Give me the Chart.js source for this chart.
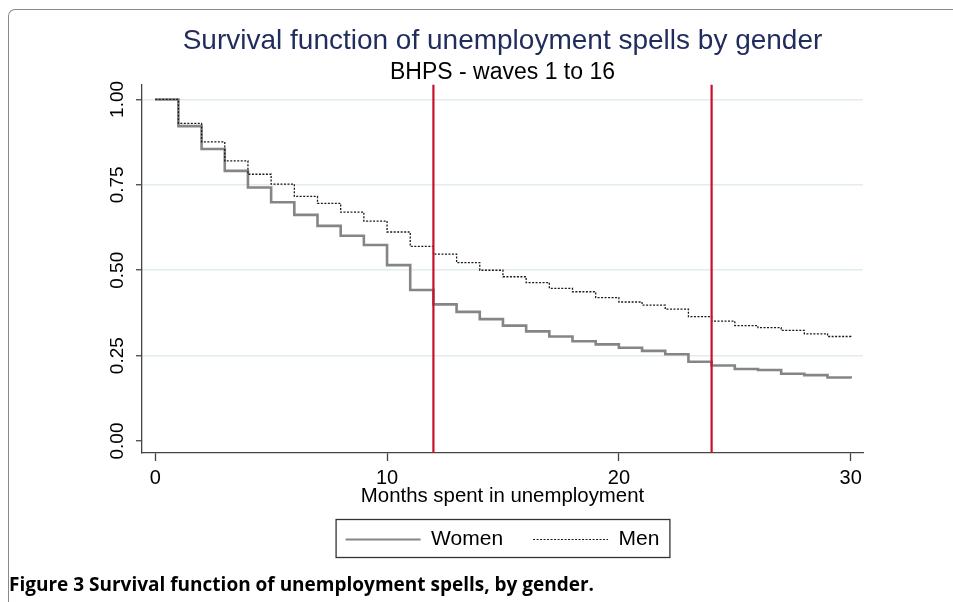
<!DOCTYPE html>
<html lang="en">
<head>
  <meta charset="UTF-8">
  <title>Survival function of unemployment spells by gender</title>
  <script src="https://cdn.jsdelivr.net/npm/chart.js@4.4.1/dist/chart.umd.min.js"></script>
  <style>
    body {
      margin: 0;
      background: #fff;
    }

    .frame {
      position: absolute;
      left: 8px;
      top: 9px;
      width: 980px;
      height: 620px;
      border-top: 1.5px solid #8a8a8a;
      border-left: 1.5px solid #8a8a8a;
      border-top-left-radius: 7px;
    }

    .chart_box {
      position: absolute;
      left: 0;
      top: 0;
      width: 953px;
      height: 602px;
    }

    .caption {
      position: absolute;
      left: 9px;
      top: 571px;
      font: bold 19px "Open Sans";
      white-space: nowrap;
    }
  </style>
</head>

<body>
  <div class="frame"></div>
  <div class="chart_box"><canvas id="survChart" width="953" height="602"></canvas></div>
  <div class="caption">Figure 3 Survival function of unemployment spells, by gender.</div>

  <script>
    // months since start of spell
    const months = [0, 1, 2, 3, 4, 5, 6, 7, 8, 9, 10, 11, 12, 13, 14, 15, 16, 17, 18, 19, 20,
      21, 22, 23, 24, 25, 26, 27, 28, 29, 30];
    const women = [1.000, 0.922, 0.855, 0.791, 0.742, 0.699, 0.662, 0.630, 0.601, 0.574, 0.515,
      0.442, 0.400, 0.378, 0.357, 0.338, 0.321, 0.306, 0.292, 0.283, 0.273,
      0.264, 0.254, 0.232, 0.221, 0.211, 0.208, 0.197, 0.193, 0.186, 0.183];
    const men = [1.000, 0.930, 0.876, 0.820, 0.781, 0.752, 0.716, 0.696, 0.670, 0.644, 0.612,
      0.570, 0.547, 0.522, 0.500, 0.481, 0.464, 0.447, 0.437, 0.420, 0.407,
      0.398, 0.386, 0.364, 0.351, 0.338, 0.332, 0.324, 0.314, 0.306, 0.302];
    const cutoffs = [12, 24];
    const xTicks = [0, 10, 20, 30];
    const yTicks = [0, 0.25, 0.5, 0.75, 1];
    const xMin = -0.57, xMax = 30.53;
    const yMin = -0.035, yMax = 1.044;

    const sans = '"Liberation Sans", Arial, sans-serif';

    function toPoints(ys) {
      return months.map((m, i) => ({ x: m, y: ys[i] }));
    }

    const datasets = [
      {
        label: 'Women',
        data: toPoints(women),
        borderColor: '#858585',
        borderWidth: 2.6,
        stepped: true,
        pointRadius: 0,
        order: 3
      },
      {
        label: 'Men',
        data: toPoints(men),
        borderColor: '#1a1a1a',
        borderWidth: 1.3,
        borderDash: [2, 1.5],
        stepped: true,
        pointRadius: 0,
        order: 2
      }
    ];
    cutoffs.forEach(c => {
      datasets.push({
        label: 'cut' + c,
        data: [{ x: c, y: yMin }, { x: c, y: yMax }],
        borderColor: '#c8102e',
        borderWidth: 2.2,
        pointRadius: 0,
        order: 1
      });
    });

    // frame drawn round the legend, like the stata one
    const legendFrame = {
      id: 'legendFrame',
      afterDraw(chart) {
        const hb = chart.legend.legendHitBoxes;
        if (!hb || !hb.length) return;
        const last = hb[hb.length - 1];
        const ctx = chart.ctx;
        ctx.save();
        ctx.strokeStyle = '#333';
        ctx.lineWidth = 1.3;
        ctx.strokeRect(hb[0].left - 9.5, hb[0].top - 9.5, last.left + last.width - hb[0].left + 20, hb[0].height + 17);
        ctx.restore();
      }
    };

    new Chart(document.getElementById('survChart'), {
      type: 'line',
      data: { datasets: datasets },
      plugins: [legendFrame],
      options: {
        responsive: false,
        animation: false,
        layout: { padding: { left: 0, right: 90, top: 0, bottom: 42 } },
        plugins: {
          title: {
            display: true,
            fullSize: false,
            text: 'Survival function of unemployment spells by gender',
            color: '#1f2c5c',
            font: { family: sans, size: 28, weight: 'normal' },
            padding: { top: 24.6, bottom: 0 }
          },
          subtitle: {
            display: true,
            fullSize: false,
            text: 'BHPS - waves 1 to 16',
            color: '#000',
            font: { family: sans, size: 23, lineHeight: 1 },
            padding: { top: 3, bottom: 0.2 }
          },
          legend: {
            position: 'bottom',
            fullSize: false,
            labels: {
              filter: item => item.text === 'Women' || item.text === 'Men',
              sort: (a, b) => a.datasetIndex - b.datasetIndex,
              generateLabels: chart => Chart.defaults.plugins.legend.labels.generateLabels(chart).map(item => {
                const ds = chart.data.datasets[item.datasetIndex];
                item.lineDash = ds.borderDash || [];
                item.lineWidth = item.text === 'Women' ? 1.8 : 1.2;
                return item;
              }),
              usePointStyle: true,
              pointStyle: 'line',
              pointStyleWidth: 75,
              padding: 30,
              color: '#000',
              font: { family: sans, size: 21 }
            }
          },
          tooltip: { enabled: false }
        },
        scales: {
          x: {
            type: 'linear',
            min: xMin,
            max: xMax,
            afterFit: s => { s.height = 46; },
            afterBuildTicks: s => { s.ticks = xTicks.map(v => ({ value: v })); },
            grid: { drawOnChartArea: false, drawTicks: true, tickLength: 8, tickColor: '#444', tickWidth: 1.3 },
            border: { color: '#444', width: 1.3 },
            ticks: { color: '#000', padding: 5, font: { family: sans, size: 20 } },
            title: {
              display: true,
              text: 'Months spent in unemployment',
              color: '#000',
              font: { family: sans, size: 20.4 },
              padding: { top: 0, bottom: -10 }
            }
          },
          y: {
            min: yMin,
            max: yMax,
            afterFit: s => { s.width = 142; },
            afterBuildTicks: s => { s.ticks = yTicks.map(v => ({ value: v })); },
            grid: {
              color: ctx => (ctx.tick && ctx.tick.value === 0) ? 'rgba(0,0,0,0)' : '#e2ecf0',
              lineWidth: 1.5,
              tickLength: 6,
              tickColor: '#444',
              tickWidth: 1.3
            },
            border: { color: '#444', width: 1.3 },
            ticks: {
              color: '#000',
              minRotation: 90,
              maxRotation: 90,
              crossAlign: 'center',
              padding: 0,
              font: { family: sans, size: 19 },
              callback: v => v.toFixed(2)
            }
          }
        }
      }
    });
  </script>
</body>

</html>
